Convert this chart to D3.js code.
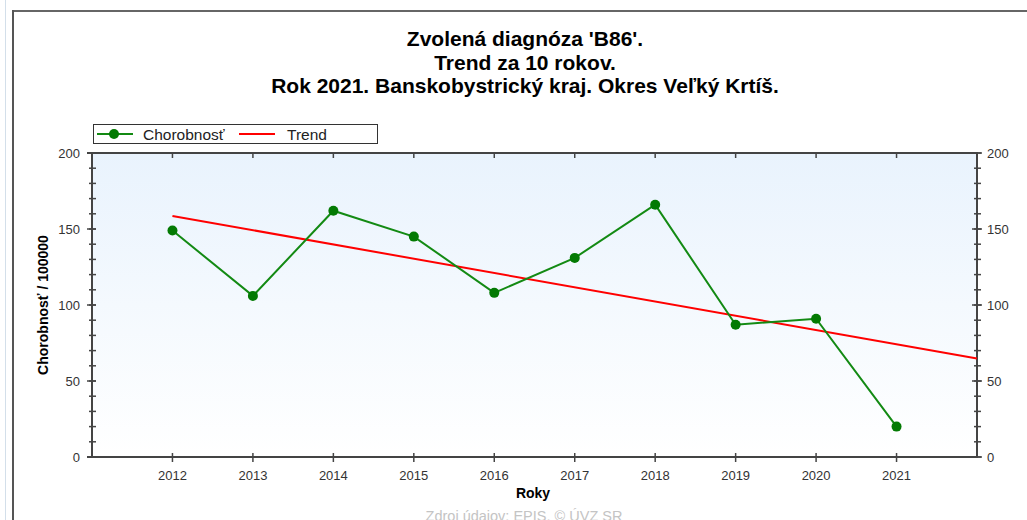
<!DOCTYPE html>
<html><head><meta charset="utf-8">
<script src="https://cdn.jsdelivr.net/npm/d3@7/dist/d3.min.js"></script>
<style>body{margin:0;background:#fff;}svg{display:block;font-family:"Liberation Sans",Arial,sans-serif;}</style>
</head><body>
<svg id="c" width="1027" height="520"></svg>
<script>
const titleLines = ["Zvolená diagnóza 'B86'.", "Trend za 10 rokov.", "Rok 2021. Banskobystrický kraj. Okres Veľký Krtíš."];
const years = [2012, 2013, 2014, 2015, 2016, 2017, 2018, 2019, 2020, 2021];
const chorobnost = [149, 106, 162, 145, 108, 131, 166, 87, 91, 20];
const trendYears = [2012, 2022];
const trendValues = [158.6, 64.8];
const yTicks = [0, 50, 100, 150, 200];
const seriesNames = ["Chorobnosť", "Trend"];
const yTitle = "Chorobnosť / 100000";
const xTitle = "Roky";
const source = "Zdroj údajov: EPIS, © ÚVZ SR";

const svg = d3.select("#c");
const L = 92, R = 977, T = 153, B = 457;
const x = d3.scaleLinear().domain([2011, 2022]).range([L, R]);
const y = d3.scaleLinear().domain([0, 200]).range([B, T]);

// frame
svg.append("line").attr("x1",5.5).attr("x2",5.5).attr("y1",0).attr("y2",520).attr("stroke","#d3dfea").attr("stroke-width",1);
svg.append("line").attr("x1",13).attr("x2",1027).attr("y1",11).attr("y2",11).attr("stroke","#666").attr("stroke-width",2);
svg.append("line").attr("x1",13).attr("x2",13).attr("y1",10).attr("y2",520).attr("stroke","#555").attr("stroke-width",2);

// title
svg.append("g").selectAll("text").data(titleLines).join("text")
  .attr("x",525).attr("y",(d,i)=>46+i*23.5).attr("text-anchor","middle")
  .attr("font-size",21).attr("font-weight","bold").attr("fill","#000").text(d=>d);

// background gradient
const defs = svg.append("defs");
const g = defs.append("linearGradient").attr("id","bg").attr("x1",0).attr("x2",0).attr("y1",0).attr("y2",1);
g.append("stop").attr("offset","0%").attr("stop-color","#e9f3fd");
g.append("stop").attr("offset","100%").attr("stop-color","#ffffff");
svg.append("rect").attr("x",L).attr("y",T).attr("width",R-L).attr("height",B-T).attr("fill","url(#bg)");

const axCol = "#444";
// axes
const yMinor = d3.range(0, 201, 10);
function yAxisTicks(xPos, side){
  const ga = svg.append("g");
  ga.append("line").attr("x1",xPos).attr("x2",xPos).attr("y1",T-1).attr("y2",B+1).attr("stroke",axCol).attr("stroke-width",2);
  ga.selectAll("line.mn").data(yMinor).join("line").attr("class","mn")
    .attr("x1",xPos-3).attr("x2",xPos+4).attr("y1",d=>y(d)).attr("y2",d=>y(d)).attr("stroke",axCol).attr("stroke-width",1.5);
  ga.selectAll("line.mj").data(yTicks).join("line").attr("class","mj")
    .attr("x1",xPos-5).attr("x2",side<0?xPos+4:xPos+5).attr("y1",d=>y(d)).attr("y2",d=>y(d)).attr("stroke",axCol).attr("stroke-width",1.5);
  ga.selectAll("text").data(yTicks).join("text")
    .attr("x", side<0 ? xPos-12 : xPos+10).attr("y",d=>y(d)+5)
    .attr("text-anchor", side<0?"end":"start").attr("font-size",13).attr("fill","#333").text(d=>d);
}
yAxisTicks(L,-1);
yAxisTicks(R,1);

// bottom and top axes
svg.append("line").attr("x1",L-5).attr("x2",R+1).attr("y1",B).attr("y2",B).attr("stroke",axCol).attr("stroke-width",2);
svg.append("line").attr("x1",L-5).attr("x2",R+1).attr("y1",T).attr("y2",T).attr("stroke",axCol).attr("stroke-width",2);
svg.append("g").selectAll("line").data(years).join("line")
  .attr("x1",d=>x(d)).attr("x2",d=>x(d)).attr("y1",B-4).attr("y2",B+5).attr("stroke",axCol).attr("stroke-width",1.5);
svg.append("g").selectAll("line").data(years).join("line")
  .attr("x1",d=>x(d)).attr("x2",d=>x(d)).attr("y1",T).attr("y2",T+5).attr("stroke",axCol).attr("stroke-width",1.5);
svg.append("g").selectAll("text").data(years).join("text")
  .attr("x",d=>x(d)).attr("y",B+23).attr("text-anchor","middle").attr("font-size",13).attr("fill","#333").text(d=>d);

// axis titles
svg.append("text").attr("transform",`translate(48,${(T+B)/2}) rotate(-90)`).attr("text-anchor","middle")
  .attr("font-size",14).attr("font-weight","bold").attr("fill","#000").text(yTitle);
svg.append("text").attr("x",533).attr("y",498).attr("text-anchor","middle").attr("font-size",14).attr("font-weight","bold").attr("fill","#000").text(xTitle);
svg.append("text").attr("x",524).attr("y",521).attr("text-anchor","middle").attr("font-size",14.5).attr("fill","#c4c4c4").text(source);

// trend line
const line = d3.line().x(d=>x(d[0])).y(d=>y(d[1]));
svg.append("path").datum(trendYears.map((d,i)=>[d,trendValues[i]])).attr("d",line)
  .attr("fill","none").attr("stroke","#ff0000").attr("stroke-width",2);
// series
const pts = years.map((d,i)=>[d,chorobnost[i]]);
svg.append("path").datum(pts).attr("d",line).attr("fill","none").attr("stroke","#138a13").attr("stroke-width",2);
svg.append("g").selectAll("circle").data(pts).join("circle")
  .attr("cx",d=>x(d[0])).attr("cy",d=>y(d[1])).attr("r",5).attr("fill","#037a03");

// legend
const lg = svg.append("g");
lg.append("rect").attr("x",93.5).attr("y",124.5).attr("width",284).attr("height",19).attr("fill","#fff").attr("stroke","#333").attr("stroke-width",1);
lg.append("line").attr("x1",97).attr("x2",133).attr("y1",134).attr("y2",134).attr("stroke","#138a13").attr("stroke-width",2);
lg.append("circle").attr("cx",114).attr("cy",134).attr("r",5).attr("fill","#037a03");
lg.append("line").attr("x1",239).attr("x2",275).attr("y1",134).attr("y2",134).attr("stroke","#ff0000").attr("stroke-width",2);
lg.selectAll("text").data(seriesNames).join("text")
  .attr("x",(d,i)=>i===0?143:287).attr("y",139.5).attr("font-size",15.5).attr("fill","#222").text(d=>d);
</script>
</body></html>
